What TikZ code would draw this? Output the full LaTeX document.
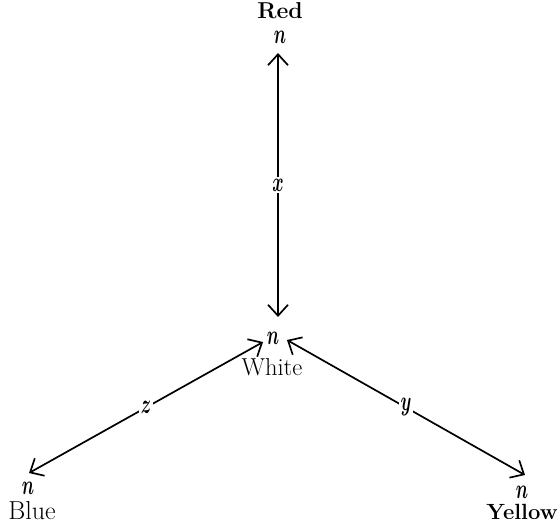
\documentclass[tikz,border=0pt]{standalone}
\usetikzlibrary{arrows.meta}
\tikzset{
  edge/.style={line width=1.7pt, {Straight Barb[length=11pt,width=20pt,line width=1.7pt]}-{Straight Barb[length=11pt,width=20pt,line width=1.7pt]}},
  word/.style={inner sep=0pt},
  nn/.style={inner sep=0pt},
  lab/.style={fill=white, inner sep=2pt},
}
\newcommand{\tallit}[1]{\scalebox{1}[1.6]{\fontsize{18}{20}\selectfont\boldmath$#1$}}
\begin{document}
\begin{tikzpicture}[x=1pt,y=-1pt]
\useasboundingbox (0,0) rectangle (559,524);
% labels
\node[word, font=\fontsize{23}{26}\selectfont\bfseries] (red) at (280,10.5) {Red};
\node[nn] (nr) at (280,37) {\tallit{n}};
\node[nn] (nw) at (273,338) {\tallit{n}};
\node[word, font=\fontsize{24.5}{28}\selectfont] (white) at (272,367) {White};
\node[nn] (nb) at (28,488) {\tallit{n}};
\node[word, font=\fontsize{26}{30}\selectfont] (blue) at (32,511) {Blue};
\node[nn] (ny) at (522,492) {\tallit{n}};
\node[word, font=\fontsize{22}{26}\selectfont\bfseries] (yellow) at (522,512) {Yellow};
% arrow ends
\coordinate (rt) at (278,53);
\coordinate (rb) at (278,317);
\coordinate (wl) at (263,342);
\coordinate (bt) at (29,473);
\coordinate (wr) at (287,340);
\coordinate (yt) at (525,475);
% connectors
\draw[edge] (rt) -- node[lab] {\tallit{x}} (rb);
\draw[edge] (wl) -- node[lab] {\tallit{z}} (bt);
\draw[edge] (wr) -- node[lab] {\tallit{y}} (yt);
\end{tikzpicture}
\end{document}
